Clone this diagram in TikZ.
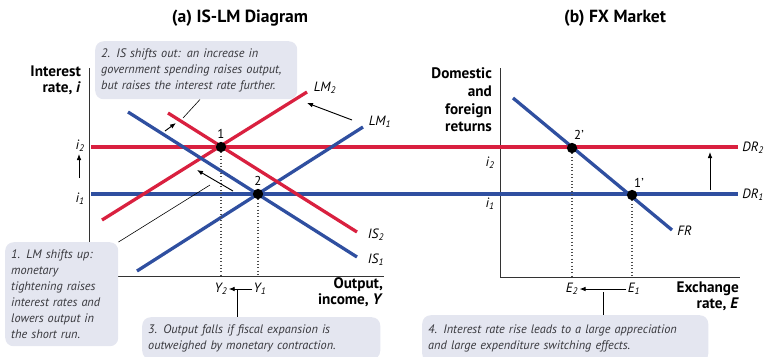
\documentclass[tikz,border=0pt]{standalone}
\usepackage{fontspec}
\setmainfont{PT Sans}
\usetikzlibrary{arrows.meta,positioning,calc}
\definecolor{crvred}{RGB}{217,32,63}
\definecolor{crvblue}{RGB}{47,79,160}
\definecolor{notefill}{RGB}{228,230,240}
\definecolor{notetext}{RGB}{55,55,60}

\begin{document}
\begin{tikzpicture}[x=0.03cm,y=-0.03cm,font=\fontsize{10}{12}\selectfont,
 note/.style={fill=notefill,rounded corners=0.25cm,anchor=north west,align=left,inner xsep=0.18cm,
   text=notetext,font=\fontsize{10.5}{13.6}\selectfont\itshape},
 axlbl/.style={font=\fontsize{13}{14}\selectfont\bfseries,align=right},
 ttl/.style={font=\fontsize{15}{17}\selectfont\bfseries},
 lbl/.style={font=\fontsize{11.5}{13}\selectfont\itshape,inner sep=1pt},
 redln/.style={draw=crvred,line width=2.8pt},
 blueln/.style={draw=crvblue,line width=2.8pt},
 ax/.style={draw=black!80,line width=0.7pt},
 dotln/.style={draw=black!70,line width=0.9pt,dotted},
 arr/.style={-{Latex[length=1.8mm,width=1.4mm]},line width=0.8pt},
 lead/.style={line width=0.5pt},
 dot/.style={circle,fill=black,inner sep=0pt,minimum size=0.31cm}]
\useasboundingbox (0,0) rectangle (764,356);

% titles
\node[ttl] (ttla) at (240,18) {(a) IS-LM Diagram};
\node[ttl] (ttlb) at (615,18) {(b) FX Market};

% axes
\coordinate (oa) at (89,276);
\coordinate (ob) at (500,277);
\draw[ax] (89,68) -- (oa) -- (384,276);
\draw[ax] (500,68) -- (ob) -- (740,277);
\node[axlbl,anchor=east] (ylbla) at (85,80) {Interest\\rate, \textit{i}};
\node[axlbl,anchor=east] (xlbla) at (387,292) {Output,\\income, \textit{Y}};
\node[axlbl,anchor=east,font=\fontsize{13}{15}\selectfont\bfseries] (ylblb) at (496,100) {Domestic\\and\\foreign\\returns};
\node[axlbl,anchor=east] (xlblb) at (743,296) {Exchange\\rate, \textit{E}};

% interest rate lines, both panels
\draw[redln] (91,147) coordinate (dr2a) -- (738,147) coordinate (dr2b);
\draw[blueln] (91,194) coordinate (dr1a) -- (738,194) coordinate (dr1b);
\node[lbl,anchor=west] (dr2) at (741,148) {DR\textsubscript{2}};
\node[lbl,anchor=west] (dr1) at (741,195) {DR\textsubscript{1}};

% IS and LM curves
\coordinate (lm1a) at (137,271); \coordinate (lm1b) at (363,127);
\coordinate (lm2a) at (102,220); \coordinate (lm2b) at (307,92);
\coordinate (is1a) at (128,112); \coordinate (is1b) at (357,257);
\coordinate (is2a) at (168,113); \coordinate (is2b) at (357,232);
\draw[blueln] (lm1a) -- (lm1b);
\draw[redln] (lm2a) -- (lm2b);
\draw[blueln] (is1a) -- (is1b);
\draw[redln] (is2a) -- (is2b);
\node[lbl] (lm2) at (325,88) {LM\textsubscript{2}};
\node[lbl] (lm1) at (380,122) {LM\textsubscript{1}};
\node[lbl] (is2) at (376,235) {IS\textsubscript{2}};
\node[lbl] (is1) at (376,260) {IS\textsubscript{1}};

% equilibria, panel (a)
\node[dot] (pt1) at (221,147) {};
\node[dot] (pt2) at (258,194) {};
\node[lbl,font=\fontsize{11}{12}\selectfont] (n1) at (221,134) {1};
\node[lbl,font=\fontsize{11}{12}\selectfont] (n2) at (258,181) {2};
\draw[dotln] (pt1) -- (pt1 |- oa);
\draw[dotln] (pt2) -- (pt2 |- oa);
\node[lbl] (i2a) at (80,146) {i\textsubscript{2}};
\node[lbl] (i1a) at (80,199) {i\textsubscript{1}};
\node[lbl] (yy2) at (221,289) {Y\textsubscript{2}};
\node[lbl] (yy1) at (260,289) {Y\textsubscript{1}};

% FX panel
\coordinate (fra) at (513,98); \coordinate (frb) at (672,230);
\draw[blueln] (fra) -- (frb);
\node[lbl,anchor=west] (fr) at (676,231) {FR};
\node[dot] (pt2p) at (572,148) {};
\node[dot] (pt1p) at (632,195) {};
\node[lbl,font=\fontsize{11}{12}\selectfont] (n2p) at (579,135) {2\textquoteright};
\node[lbl,font=\fontsize{11}{12}\selectfont] (n1p) at (639,183) {1\textquoteright};
\draw[dotln] (pt2p) -- (pt2p |- ob);
\draw[dotln] (pt1p) -- (pt1p |- ob);
\node[lbl] (i2b) at (490,163) {i\textsubscript{2}};
\node[lbl] (i1b) at (490,204) {i\textsubscript{1}};
\node[lbl] (ee2) at (572,289) {E\textsubscript{2}};
\node[lbl] (ee1) at (634,289) {E\textsubscript{1}};

% shift arrows
\draw[arr] (352,120) coordinate (lmsa) -- (307,103) coordinate (lmsb);
\draw[arr] (233,191) coordinate (lmta) -- (197,170) coordinate (lmtb);
\draw[arr] (165,131) coordinate (issa) -- (176,123) coordinate (issb);
\draw[arr] (79,178) coordinate (iua) -- (79,154) coordinate (iub);
\draw[arr] (yy1.west) -- (yy2.east);
\draw[arr] (ee1.west) -- (ee2.east);
\draw[arr] (710,190) coordinate (dra) -- (710,152) coordinate (drb);

% callouts
\node[note,text width=5.7cm,minimum height=1.74cm] (co2) at (95,41)
 {2. IS shifts out: an increase in\\government spending raises output,\\but raises the interest rate further.};
\node[note,text width=3.03cm,minimum height=3.12cm] (co1) at (5,242)
 {1. LM shifts up:\\monetary\\tightening raises\\interest rates and\\lowers output in\\the short run.};
\node[note,text width=6.78cm,minimum height=1.26cm] (co3) at (142,317)
 {3. Output falls if fiscal expansion is\\outweighed by monetary contraction.};
\node[note,text width=8.22cm,minimum height=1.41cm] (co4) at (422,315)
 {4. Interest rate rise leads to a large appreciation\\and large expenditure switching effects.};

% leaders
\draw[lead] (co2.south -| 200,0) -- (183,118) coordinate (ld2);
\draw[lead] (210,185) coordinate (ld1) -- (co1.north east);
\coordinate (ld3) at (237,290);
\draw[lead] (ld3) -- (ld3 |- co3.north);
\coordinate (ld4) at (603,292);
\draw[lead] (ld4) -- (ld4 |- co4.north);
\end{tikzpicture}
\end{document}
